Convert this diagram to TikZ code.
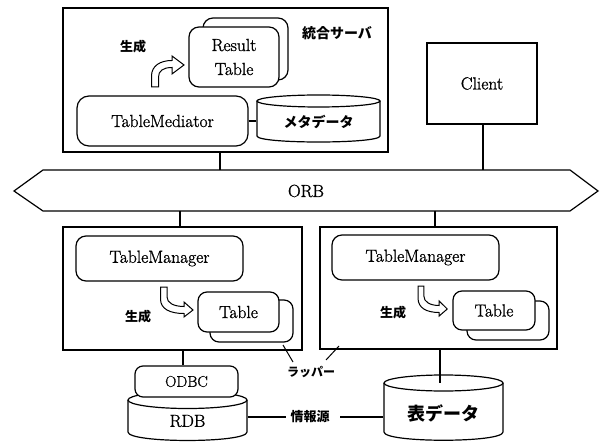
\documentclass[tikz,border=0pt]{standalone}
\usepackage{fontspec}
\newfontfamily\jp{Noto Sans CJK JP}
\newfontfamily\lmb{Latin Modern Roman}[FakeBold=1.2]
\begin{document}
\begin{tikzpicture}[x=1pt,y=-1pt,line width=1.2pt,
  box/.style={draw,inner sep=0pt,fill=white},
  rbox/.style={box,rounded corners=10pt},
  lat/.style={font=\lmb\fontsize{17.5}{24}\selectfont},
  jlab/.style={font=\jp\bfseries\fontsize{13}{13}\selectfont,inner sep=0pt},
  hookarrow/.pic={\draw[fill=white,line width=1pt] (0,0) -- (0,12) .. controls (0,22) and (9.5,26.5) .. (23.5,26.5) -- (23.5,30) -- (32.5,23) -- (23.5,15) -- (23.5,19.5) .. controls (13.5,19.5) and (6.5,16) .. (6.5,10) -- (6.5,0) -- cycle;}]
\useasboundingbox (0,0) rectangle (601,443);
% top server
\node[box,minimum width=325,minimum height=144] (server) at (225.5,80) {};
\node[jlab,font=\jp\bfseries\fontsize{14}{14}\selectfont] (srvlab) at (337,33) {統合サーバ};
\node[rbox,minimum width=85,minimum height=62] (resback) at (245.5,49) {};
\node[rbox,lat,minimum width=90,minimum height=60,align=center] (resfront) at (234,57) {Result\\Table};
\node[jlab] (gen1) at (133,47) {生成};
\draw[fill=white,line width=1pt] (151.5,87) -- (151.5,76) .. controls (151.5,66) and (160,60.5) .. (172,60.5) -- (172,56) -- (184,65) -- (172,74) -- (172,67.5) .. controls (163,67.5) and (158.5,71) .. (158.5,77) -- (158.5,87) -- cycle;
\node[rbox,lat,rounded corners=12pt,minimum width=171,minimum height=50] (tmed) at (162.5,121) {TableMediator};
% meta cylinder
\draw[fill=white] (257,101) -- (257,136) .. controls (257,144) and (380,144) .. (380,136) -- (380,101);
\draw[fill=white] (318.5,101) ellipse [x radius=61.5,y radius=6];
\node[font=\jp\bfseries\fontsize{14}{14}\selectfont,minimum width=123,inner sep=0pt] (meta) at (318.5,122) {メタデータ};
\draw (tmed.east) -- (tmed.east -| meta.west);
% client
\node[box,lat,minimum width=110,minimum height=81] (client) at (482,83.5) {Client};
% ORB
\draw[fill=white] (14,191) -- (43,170) -- (570,170) -- (598,191) -- (570,211) -- (43,211) -- cycle;
\node[lat] (orb) at (306,191) {ORB};
\coordinate (orbT1) at (220,170);
\coordinate (orbT2) at (483,170);
\coordinate (orbB1) at (180,211);
\coordinate (orbB2) at (435,211);
\draw (orbT1 |- server.south) -- (orbT1);
\draw (orbT2 |- client.south) -- (orbT2);
% wrappers
\node[box,minimum width=239,minimum height=123] (wrapL) at (182.5,288.5) {};
\node[box,minimum width=237,minimum height=122] (wrapR) at (438.5,288) {};
\draw (orbB1) -- (orbB1 |- wrapL.north);
\draw (orbB2) -- (orbB2 |- wrapR.north);
\node[rbox,lat,minimum width=167,minimum height=45] (tmL) at (159.5,258.5) {TableManager};
\node[rbox,lat,minimum width=167,minimum height=45] (tmR) at (415.5,257.5) {TableManager};
\node[rbox,rounded corners=9pt,minimum width=83,minimum height=42] (tabLb) at (251.5,321) {};
\node[rbox,lat,rounded corners=9pt,minimum width=81,minimum height=40] (tabL) at (238.5,312) {Table};
\node[rbox,rounded corners=9pt,minimum width=82,minimum height=39] (tabRb) at (508,320.5) {};
\node[rbox,lat,rounded corners=9pt,minimum width=82,minimum height=39] (tabR) at (494,310.5) {Table};
\node[jlab] (gen2) at (138,317) {生成};
\node[jlab] (gen3) at (393,313) {生成};
\pic at (160.5,287) {hookarrow};
\pic[xscale=0.9] at (418,286) {hookarrow};
% wrapper label
\node[jlab,font=\jp\bfseries\fontsize{12}{12}\selectfont] (wraplab) at (311,372) {ラッパー};
\coordinate (lw1a) at (293,362);
\coordinate (lw1b) at (283,345);
\coordinate (lw2a) at (326,360);
\coordinate (lw2b) at (339,346);
\draw[line width=1pt] (lw1a) -- (lw1b);
\draw[line width=1pt] (lw2a) -- (lw2b);
% RDB cylinder
\draw[fill=white] (128,400) -- (128,432) .. controls (128,443.3) and (247,443.3) .. (247,432) -- (247,400);
\draw[fill=white] (187.5,400) ellipse [x radius=59.5,y radius=8.5];
\node[lat,minimum width=119,inner sep=0pt] (rdb) at (187.5,421) {RDB};
\node[rbox,lat,font=\lmb\fontsize{15.5}{18}\selectfont,rounded corners=8pt,minimum width=103,minimum height=31] (odbc) at (186.5,381.5) {ODBC};
\coordinate (c1) at (183,0);
\draw (c1 |- wrapL.south) -- (c1 |- odbc.north);
% table data cylinder
\draw[fill=white] (384,383) -- (384,432) .. controls (384,443) and (503,443) .. (503,432) -- (503,383);
\draw[fill=white] (443.5,383) ellipse [x radius=59.5,y radius=8];
\node[font=\jp\bfseries\fontsize{18}{18}\selectfont,minimum width=119,inner sep=0pt] (tdata) at (443.5,413) {表データ};
\coordinate (tdtop) at (440,383);
\draw (tdtop |- wrapR.south) -- (tdtop);
% source label
\node[jlab] (src) at (310,417) {情報源};
\draw (src.west -| rdb.east) -- ([xshift=-4pt]src.west);
\draw ([xshift=10pt]src.east) -- (src.east -| tdata.west);
\end{tikzpicture}
\end{document}
